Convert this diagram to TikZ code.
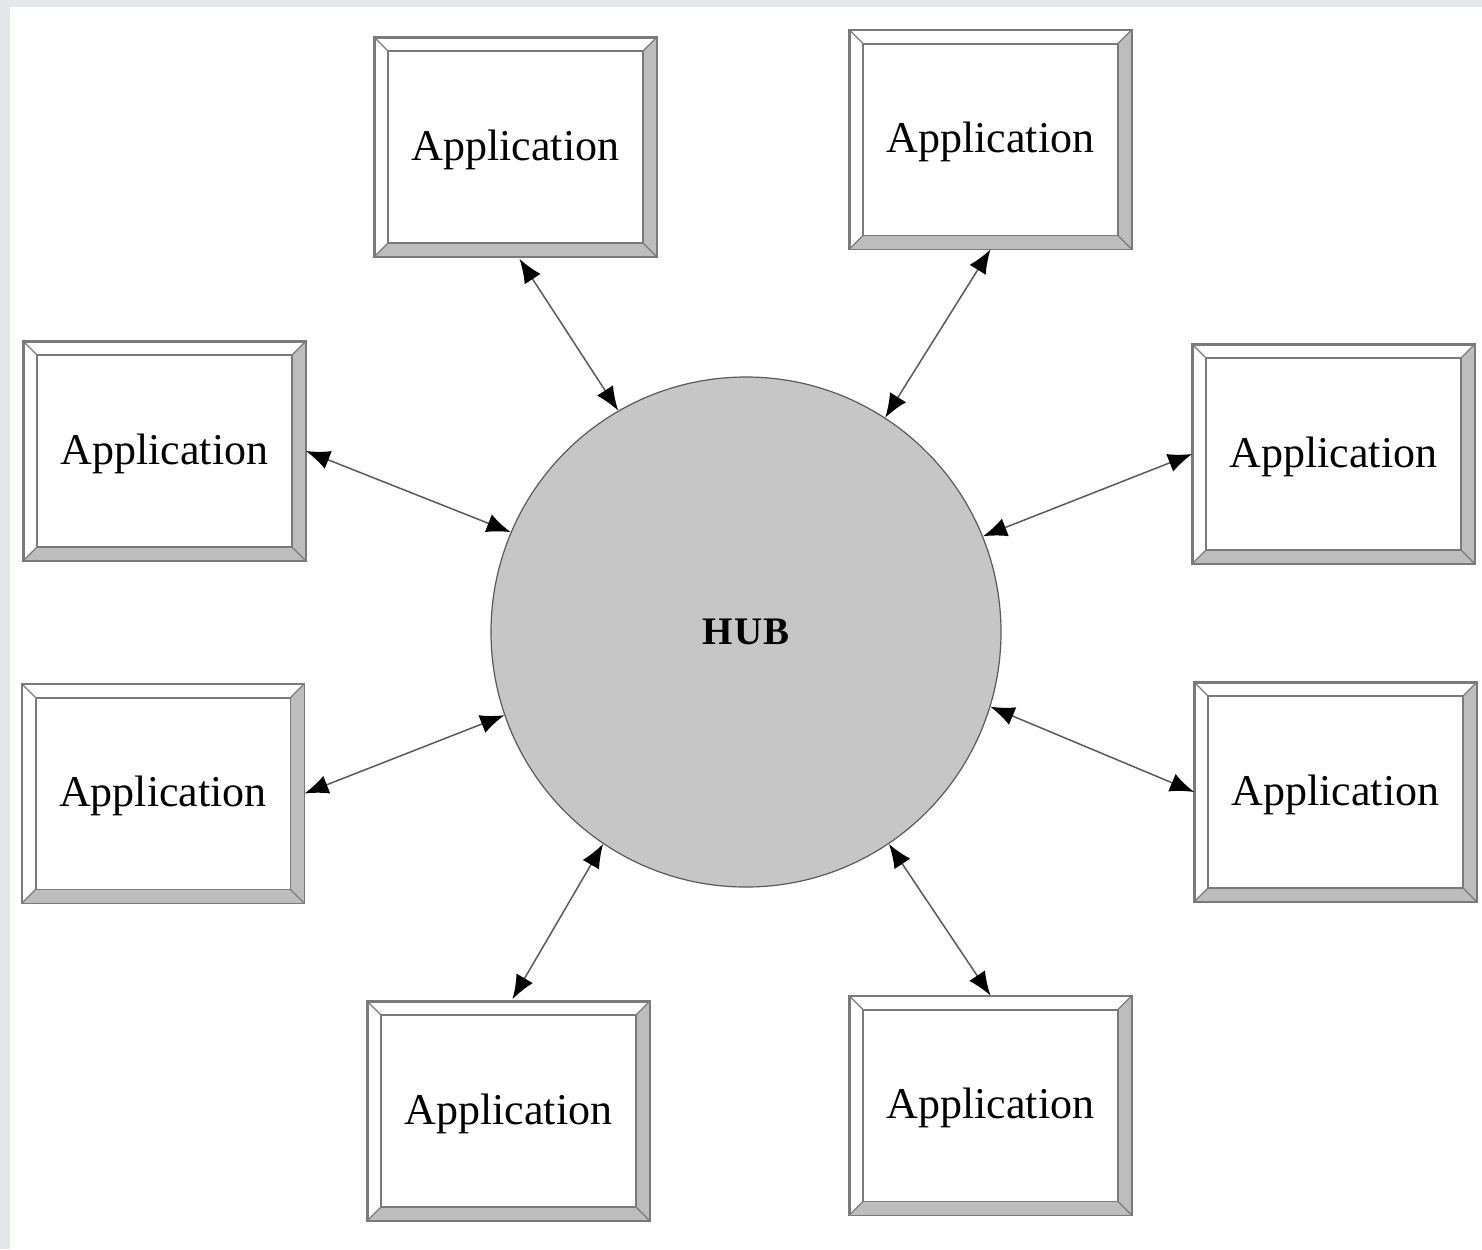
\documentclass[tikz,border=0pt]{standalone}
\usepackage{fontspec}
\setmainfont{Liberation Serif}
\usetikzlibrary{calc,arrows.meta}
\definecolor{bgstrip}{HTML}{E5E7EB}
\definecolor{bevdark}{HTML}{BDBDBD}
\definecolor{boxline}{HTML}{7A7A7A}
\definecolor{hubfill}{HTML}{C6C6C6}
\definecolor{hubline}{HTML}{5A5A5A}
\tikzset{
  appbox/.style={rectangle, fill=white, draw=boxline, line width=0.9pt,
    minimum width=140.5pt, minimum height=109pt, inner sep=0pt, text depth=2pt,
    font=\fontsize{22pt}{24pt}\selectfont},
  hubnode/.style={circle, fill=hubfill, draw=hubline, line width=0.6pt,
    minimum size=255pt, inner sep=0pt,
    font=\fontsize{19.5pt}{22pt}\selectfont\bfseries},
  link/.style={draw=hubline, line width=0.75pt,
    {Latex[length=12pt,width=9.5pt,black]}-{Latex[length=12pt,width=9.5pt,black]}}
}
\newfontfamily\hubfont[LetterSpace=4]{Liberation Serif}
\newcommand\bevel[1]{%
  \fill[bevdark] (#1.north east) -- (#1.south east) -- (#1.south west)
     -- ($(#1.south west)+(7pt,7pt)$) -- ($(#1.south east)+(-7pt,7pt)$)
     -- ($(#1.north east)+(-7pt,-7pt)$) -- cycle;
  \draw[boxline, line width=0.9pt] ($(#1.south west)+(7pt,7pt)$) rectangle ($(#1.north east)+(-7pt,-7pt)$);
  \draw[boxline, line width=0.6pt]
     (#1.north west) -- ($(#1.north west)+(7pt,-7pt)$)
     (#1.north east) -- ($(#1.north east)+(-7pt,-7pt)$)
     (#1.south west) -- ($(#1.south west)+(7pt,7pt)$)
     (#1.south east) -- ($(#1.south east)+(-7pt,7pt)$);
  \draw[boxline, line width=0.9pt] (#1.south west) rectangle (#1.north east);
}
\begin{document}
\begin{tikzpicture}[x=0.5pt,y=-0.5pt]
\useasboundingbox (0,0) rectangle (1482,1249);
\fill[bgstrip] (0,0) rectangle (1482,1249);
\fill[white] (10,7) rectangle (1482,1249);

\node[hubnode] (hub) at (746,632) {\hubfont\bfseries HUB};

\node[appbox] (b1) at (515.5,147) {Application};
\node[appbox] (b2) at (990.5,139.5) {Application};
\node[appbox] (b3) at (164.5,451) {Application};
\node[appbox] (b4) at (1333.5,454) {Application};
\node[appbox] (b5) at (163,793.5) {Application};
\node[appbox] (b6) at (1335.5,792) {Application};
\node[appbox] (b7) at (508.5,1111) {Application};
\node[appbox] (b8) at (990.5,1105.5) {Application};

\foreach \b in {b1,b2,b3,b4,b5,b6,b7,b8} {\bevel{\b}}

\draw[link] ($(b1.south)+(2pt,-1pt)$) -- (hub.120.6);
\draw[link] (b2.south) -- (hub.57.4);
\draw[link] (b3.east) -- (hub.157.2);
\draw[link] (b4.west) -- (hub.22.9);
\draw[link] (b5.east) -- (hub.199.8);
\draw[link] (b6.west) -- (hub.-17.7);
\draw[link] ($(b7.north)+(2pt,1pt)$) -- (hub.236.9);
\draw[link] (b8.north) -- (hub.304.4);
\end{tikzpicture}
\end{document}
